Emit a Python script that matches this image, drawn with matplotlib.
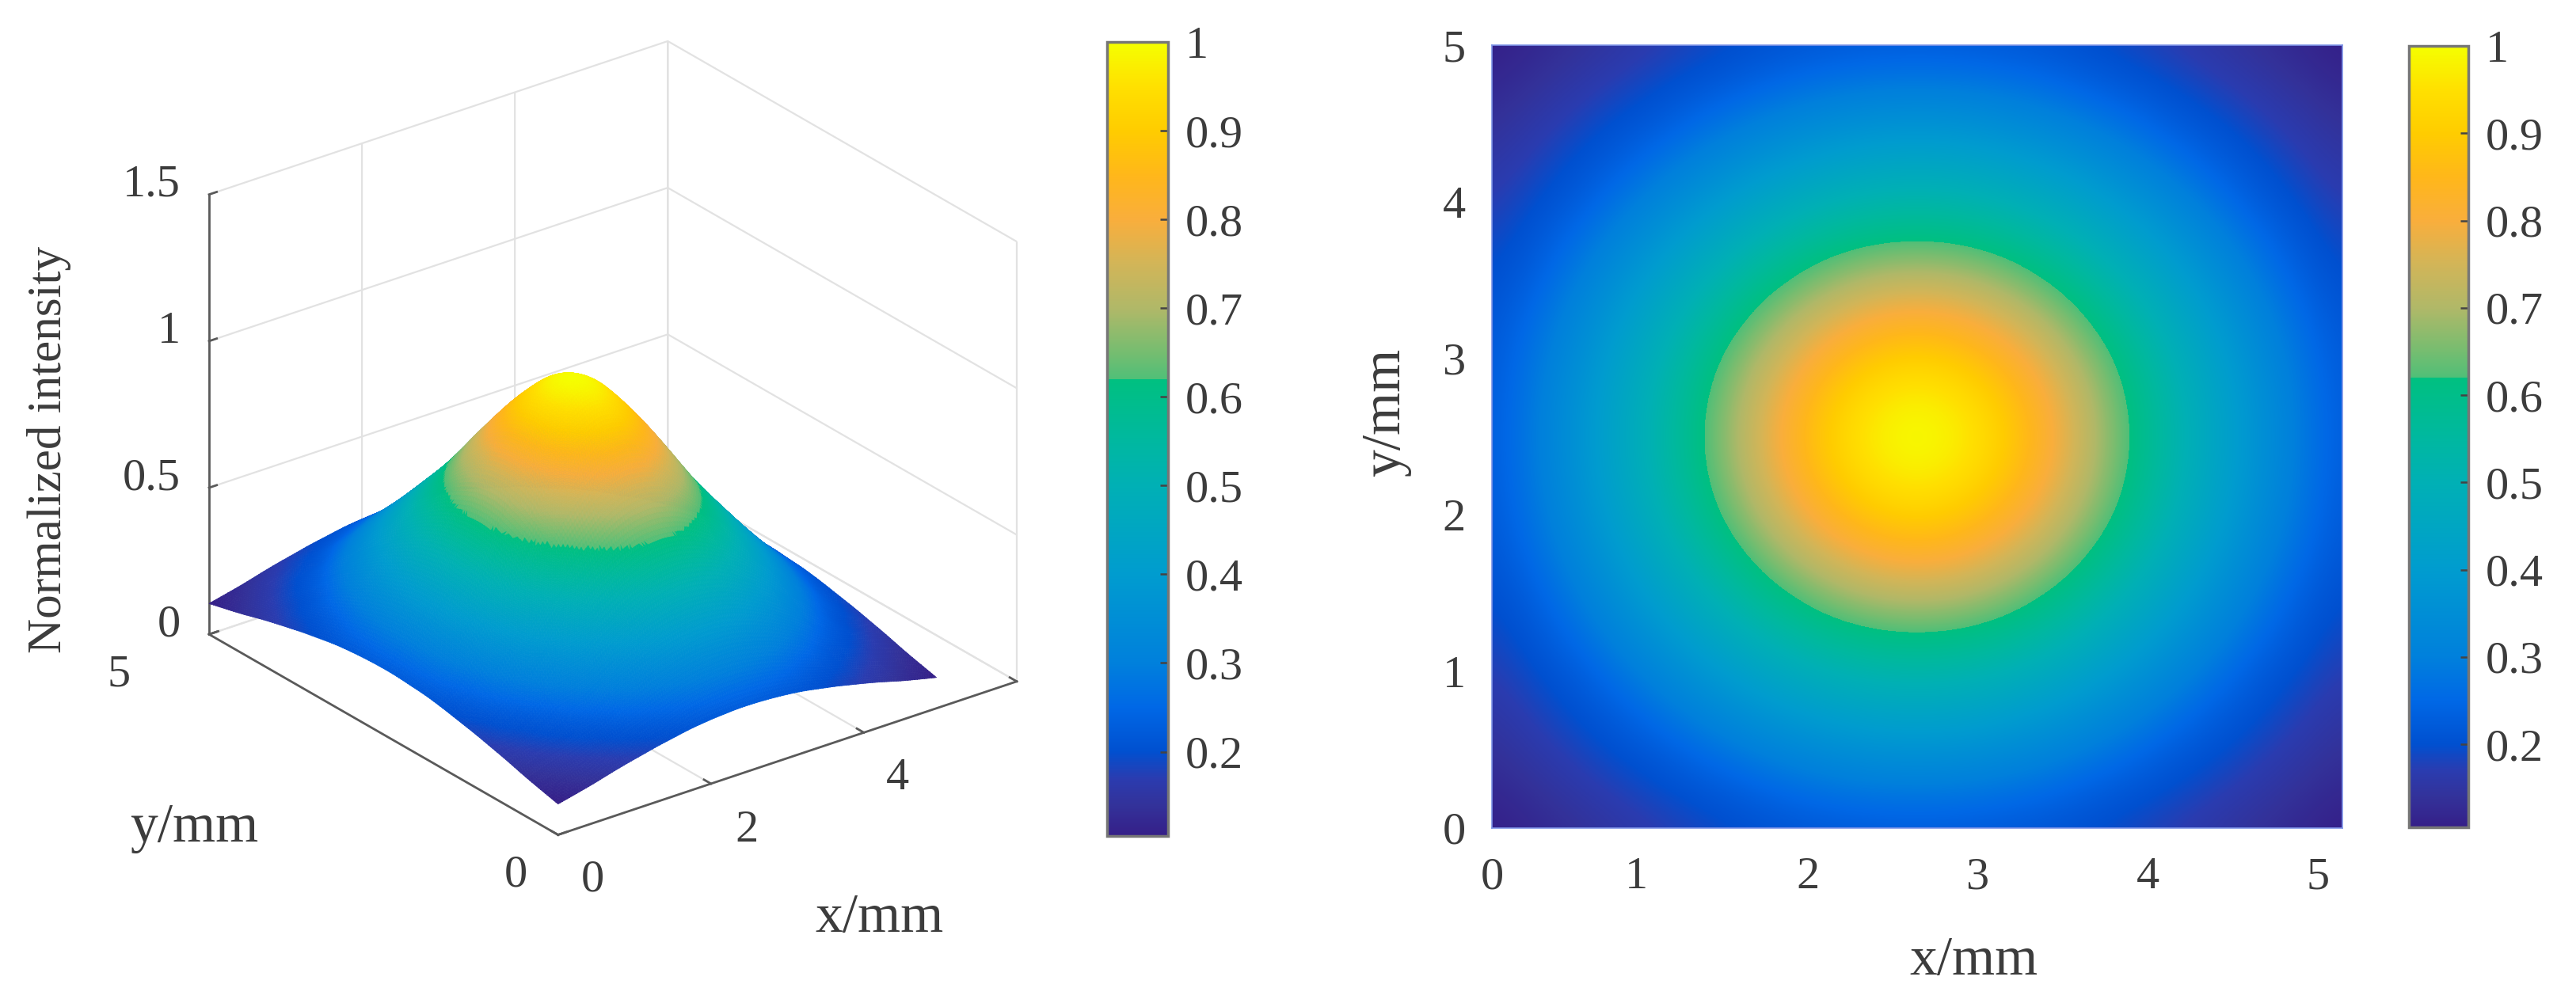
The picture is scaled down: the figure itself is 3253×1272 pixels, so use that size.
import numpy as np
import matplotlib
matplotlib.use("Agg")
import matplotlib.pyplot as plt
from matplotlib import cm
from matplotlib.colors import LinearSegmentedColormap, Normalize
from matplotlib.tri import Triangulation, UniformTriRefiner
from mpl_toolkits.mplot3d import proj3d

plt.rcParams['font.family'] = ['Liberation Serif', 'DejaVu Serif']
plt.rcParams['grid.color'] = '#e2e2e2'
plt.rcParams['grid.linewidth'] = 1.6

W, H = 3253, 1272
TEXT = '#3c3c3c'

# intensity, one quadrant from beam centre (top left)
# out to the corner (bottom right), 11 x 11 nodes
intensity_quadrant = [
    [1.000, .978, .912, .825, .725, .620, .530, .445, .365, .290, .225],
    [.978, .951, .891, .809, .712, .611, .523, .439, .361, .286, .223],
    [.912, .891, .840, .764, .676, .585, .503, .423, .346, .276, .218],
    [.825, .809, .764, .700, .620, .545, .470, .395, .325, .258, .210],
    [.725, .712, .676, .620, .561, .496, .428, .361, .295, .235, .198],
    [.620, .611, .585, .545, .496, .439, .380, .320, .262, .214, .185],
    [.530, .523, .503, .470, .428, .380, .328, .276, .225, .196, .170],
    [.445, .439, .423, .395, .361, .320, .276, .232, .203, .178, .154],
    [.365, .361, .346, .325, .295, .262, .225, .203, .181, .159, .136],
    [.290, .286, .276, .258, .235, .214, .196, .178, .159, .138, .120],
    [.225, .223, .218, .210, .198, .185, .170, .154, .136, .120, .105],
]

cbar_ticks = [.2, .3, .4, .5, .6, .7, .8, .9, 1]
cbar_labels = ['0.2', '0.3', '0.4', '0.5', '0.6', '0.7', '0.8', '0.9', '1']

# colour bar as seen in the figure, it has a jump at 0.62
cmap_values = [.105, .14, .17, .20, .25, .30, .40, .50, .55, .62, .62, .65, .70, .75, .80, .85, .90, .95, 1.0]
cmap_colors = ['#351f88', '#33329a', '#2a3cb0', '#0050d0', '#0068e6', '#0080dc', '#009ccf', '#00b0b5',
               '#00b8a0', '#00c080', '#50bf78', '#75bd70', '#b0b868', '#d2b558', '#f9ae3c', '#ffb71a',
               '#ffcc00', '#ffe000', '#f5ff00']

surface_x_max = 4.95
heat_x_max = 5.17
heat_y_max = 5.0

x3d_ticks = [0, 2, 4, 6]
y3d_ticks = [0, 5]
z3d_ticks = [0, 0.5, 1, 1.5]
z3d_labels = ['0', '0.5', '1', '1.5']

heat_xtick_pos = [0, 0.88, 1.92, 2.95, 3.99, 5.02]
heat_xtick_labels = ['0', '1', '2', '3', '4', '5']
heat_ytick_pos = [0, 1, 2, 3, 4, 5]


def rect(x0, y0, x1, y1):
    # pixel box from the top left -> figure fraction
    return [x0 / W, 1 - y1 / H, (x1 - x0) / W, (y1 - y0) / H]


def px_text(x, y, s, size, rotation=0):
    fig.text(x / W, 1 - y / H, s, fontsize=size, rotation=rotation, ha='center', va='center', color=TEXT)


q = np.array(intensity_quadrant)
half = np.hstack([q[:, :0:-1], q])
intensity = np.vstack([half[:0:-1], half])

stops = [(v - cmap_values[0]) / (cmap_values[-1] - cmap_values[0]) for v in cmap_values]
cmap = LinearSegmentedColormap.from_list('beam', list(zip(stops, cmap_colors)), N=1024)
norm = Normalize(vmin=cmap_values[0], vmax=cmap_values[-1])

fig = plt.figure(figsize=(W / 100, H / 100), dpi=100)

# left, 3D surface
ax = fig.add_axes(rect(100, 50, 1200, 1150), projection='3d', computed_zorder=False)
ax.set_proj_type('ortho')
ax.view_init(elev=26, azim=-127.34)
ax.set_box_aspect((732, 730, 621))
ax.set_xlim(0, 6)
ax.set_ylim(0, 5)
ax.set_zlim(0, 1.5)
ax.set_xticks(x3d_ticks)
ax.set_yticks(y3d_ticks)
ax.set_zticks(z3d_ticks)
ax.set_xticklabels([''] * len(x3d_ticks))
ax.set_yticklabels([''] * len(y3d_ticks))
ax.set_zticklabels([''] * len(z3d_ticks))
ax.patch.set_alpha(0)
for axis in (ax.xaxis, ax.yaxis, ax.zaxis):
    axis.set_pane_color((1, 1, 1, 0))
    axis.pane.set_edgecolor('#e2e2e2')
    axis.line.set_color((0, 0, 0, 0))
    axis._axinfo['tick']['inward_factor'] = 0
    axis._axinfo['tick']['outward_factor'] = 0


def to_px(x, y, z):
    u, v, _ = proj3d.proj_transform(x, y, z, ax.get_proj())
    return ax.transData.transform((u, v))


# fit the axes box so the floor corners land where they are in the figure
target_x = np.array([1284.0, H - 861.0])
target_y = np.array([264.0, H - 801.0])
for _ in range(3):
    ax.apply_aspect()
    px, py = to_px(6, 0, 0), to_px(0, 5, 0)
    s = (target_x[0] - target_y[0]) / (px[0] - py[0])
    bb = ax.get_position(original=True)
    cx, cy = (bb.x0 + bb.x1) / 2 * W, (bb.y0 + bb.y1) / 2 * H
    side = bb.width * W * s
    mid_now = (px + py) / 2
    mid_target = (target_x + target_y) / 2
    new_c = mid_target + (np.array([cx, cy]) - mid_now) * s
    ax.set_position([(new_c[0] - side / 2) / W, (new_c[1] - side / 2) / H, side / W, side / H])

ny, nx = intensity.shape
gx, gy = np.meshgrid(np.linspace(0, surface_x_max, nx), np.linspace(0, 5, ny))
tri = Triangulation(gx.ravel(), gy.ravel())
fine_tri, fine_z = UniformTriRefiner(tri).refine_field(intensity.ravel(), subdiv=3)
surf = ax.plot_trisurf(fine_tri, fine_z, cmap=cmap, norm=norm, shade=False, linewidth=0.5,
                       antialiased=True, zorder=5)
surf.set_edgecolor('face')

# axis lines and ticks
line_kw = dict(color='#5a5a5a', linewidth=2, zorder=2)
ax.plot([0, 6], [0, 0], [0, 0], **line_kw)
ax.plot([0, 0], [0, 5], [0, 0], **line_kw)
ax.plot([0, 0], [5, 5], [0, 1.5], **line_kw)
for t in x3d_ticks:
    ax.plot([t, t], [0, 0.1], [0, 0], **line_kw)
for t in y3d_ticks:
    ax.plot([0, 0.12], [t, t], [0, 0], **line_kw)
for t in z3d_ticks:
    ax.plot([0, 0.1], [5, 5], [t, t], **line_kw)


def tick_text(x, y, z, s, dx, dy, ha='center'):
    u, v, _ = proj3d.proj_transform(x, y, z, ax.get_proj())
    ax.annotate(s, (u, v), xytext=(dx, dy), textcoords='offset pixels', fontsize=42, color=TEXT,
                ha=ha, va='center', annotation_clip=False)


for t, s in zip(z3d_ticks, z3d_labels):
    tick_text(0, 5, t, s, -36, 12, ha='right')
tick_text(0, 5, 0, '5', -114, -51)
tick_text(0, 0, 0, '0', -53, -51)
tick_text(0, 0, 0, '0', 44, -57)
tick_text(2, 0, 0, '2', 45, -59)
tick_text(4, 0, 0, '4', 43, -58)

px_text(62, 568, 'Normalized intensity', 44, rotation=90)
px_text(245, 1046, 'y/mm', 50)
px_text(1110, 1160, 'x/mm', 50)

# right, heat map
ax2 = fig.add_axes(rect(1884, 57, 2958, 1046))
dx = heat_x_max / (nx - 1)
dy = heat_y_max / (ny - 1)
ax2.imshow(intensity, cmap=cmap, norm=norm, origin='lower', aspect='auto', interpolation='bicubic',
           interpolation_stage='data', extent=(-dx / 2, heat_x_max + dx / 2, -dy / 2, heat_y_max + dy / 2))
ax2.set_xlim(0, heat_x_max)
ax2.set_ylim(0, heat_y_max)
ax2.set_xticks(heat_xtick_pos)
ax2.set_xticklabels(heat_xtick_labels)
ax2.set_yticks(heat_ytick_pos)
ax2.tick_params(axis='both', length=0, labelsize=42, labelcolor=TEXT)
ax2.tick_params(axis='x', pad=26)
ax2.tick_params(axis='y', pad=24)
for sp in ax2.spines.values():
    sp.set_edgecolor('#7f95e8')
    sp.set_linewidth(1.2)
px_text(1750, 521, 'y/mm', 50, rotation=90)
px_text(2493, 1214, 'x/mm', 50)

# colour bars
for box in [(1398, 53, 1475, 1056), (3042, 58, 3117, 1045)]:
    cax = fig.add_axes(rect(*box))
    cb = fig.colorbar(cm.ScalarMappable(norm=norm, cmap=cmap), cax=cax)
    cb.set_ticks(cbar_ticks)
    cb.set_ticklabels(cbar_labels)
    cb.outline.set_edgecolor('#767676')
    cb.outline.set_linewidth(2.5)
    cax.tick_params(direction='in', length=7, width=1.8, color='#444444', labelsize=42, labelcolor=TEXT, pad=16)

fig.savefig('out.png', dpi=100)
